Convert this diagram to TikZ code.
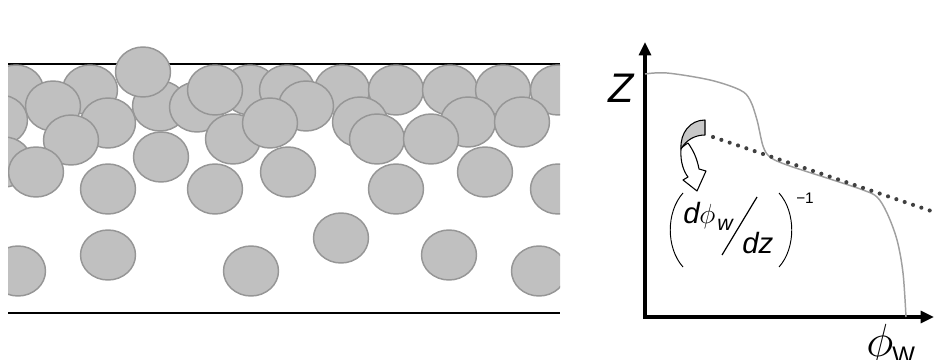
\documentclass[tikz,border=0pt]{standalone}
\usepackage{fontspec}
\setmainfont{Liberation Sans}
\usetikzlibrary{arrows.meta}

\definecolor{grainfill}{HTML}{C0C0C0}
\definecolor{grainedge}{HTML}{969696}
\definecolor{profile}{HTML}{A0A0A0}
\definecolor{dotgray}{HTML}{404040}
\definecolor{backface}{HTML}{C8C8C8}

\begin{document}
\begin{tikzpicture}[x=0.75pt,y=-0.75pt,
  grain/.style={fill=grainfill,draw=grainedge,line width=1.1pt},
  wall/.style={line width=1.3pt,draw=black},
  axis/.style={line width=2.3pt,draw=black,-{Triangle[width=9pt,length=10pt]}},
  profileline/.style={draw=profile,line width=1.1pt},
  tangent/.style={draw=dotgray,line width=3.1pt,line cap=round,dash pattern=on 0pt off 6.6pt},
  paren/.style={draw=black,line width=0.7pt},
  bigtxt/.style={font=\fontsize{22}{22}\selectfont\itshape,inner sep=0pt},
  smalltxt/.style={font=\fontsize{16}{16}\selectfont\itshape,inner sep=0pt},
  curlarrow/.style={draw=black,line width=0.8pt,line join=round}]
\useasboundingbox (0,0) rectangle (934,360);

% ---------- packed bed of grains between two walls ----------
\coordinate (wallTL) at (8,64);
\coordinate (wallTR) at (560,64);
\coordinate (wallBL) at (8,313);
\coordinate (wallBR) at (560,313);
\draw[wall] (wallTL) -- (wallTR);
\draw[wall] (wallBL) -- (wallBR);

\begin{scope}
  \clip (8,0) rectangle (560,360);
  \foreach \gx/\gy in {
    250/90, 160/106, 197/107,
    16/90, 90/90, 215/90, 287/90, 342/90, 396/90, 450/90, 503/90, 558/90,
    143/72,
    0/120, 53/106, 306/106,
    108/123, 360/122, 468/122, 522/122, 233/139, 270/123,
    71/140, 377/139, 431/139,
    4/162, 161/157, 36/172, 288/172, 485/172,
    108/189, 215/189, 396/189, 558/189,
    341/238, 108/255, 449/255, 18/271, 251/271, 539/271}
    \draw[grain] (\gx,\gy) ellipse [x radius=27.5, y radius=25];
\end{scope}

% ---------- profile plot ----------
\coordinate (origin) at (645,317);
\coordinate (ztop) at (645,42);
\coordinate (phiend) at (934,317);
\draw[axis] (origin) -- (ztop);
\draw[axis] ([xshift=-1.15pt]origin) -- (phiend);

\node[font=\fontsize{31}{31}\selectfont\itshape,inner sep=0pt,anchor=base west] (zlabel) at (608,102) {Z};

\draw[profileline] plot[smooth,tension=0.55] coordinates {
  (645,74) (667,73) (710,80) (740,90) (750,100) (757,120) (763,146)
  (770,157) (787,165) (833,180) (863,190) (877,197) (887,213)
  (897,240) (903,273) (906,317)};

% tangent of the profile
\coordinate (tanstart) at (713,137);
\coordinate (tanend) at (940,214);
\draw[tangent] (tanstart) -- (tanend);

% curled arrow pointing from the tangent to the slope expression
\filldraw[curlarrow,fill=backface] (705,120) .. controls (690,120) and (680,133) .. (681,149)
  .. controls (686,140) and (695,135) .. (705,135) -- cycle;
\filldraw[curlarrow,fill=white] (681,149) .. controls (680,162) and (684,172) .. (688,177)
  -- (683,180) -- (697,191) -- (706,171) -- (699,169)
  .. controls (697,158) and (693,150) .. (688,143)
  .. controls (685,145) and (682,147) .. (681,149) -- cycle;

% slope expression
\draw[paren] (683,193) .. controls (666,212) and (666,248) .. (683,267);
\draw[paren] (779,193) .. controls (796,212) and (796,248) .. (779,267);
\node[bigtxt,anchor=base west] (dnum) at (683,223) {d};
\node[font=\fontsize{22}{22}\selectfont,inner sep=0pt,anchor=base west] (phinum) at (699,223) {$\phi$};
\node[smalltxt,anchor=base west] (wsub) at (717,230) {w};
\draw[line width=0.9pt] (722,255) -- (757,197);
\node[bigtxt,anchor=base west] (dzden) at (742,253) {dz};
\node[font=\fontsize{11.5}{11.5}\selectfont,inner sep=0pt,anchor=base west] (expo) at (796,203) {−1};

% axis label of the abscissa
\node[font=\fontsize{24.88}{24.88}\selectfont,inner sep=0pt,anchor=base west] (philabel) at (866,356) {\scalebox{1.4}{$\phi$}};
\node[font=\fontsize{18}{18}\selectfont,inner sep=0pt,anchor=base west] (wlabel) at (892,363) {W};
\end{tikzpicture}
\end{document}
